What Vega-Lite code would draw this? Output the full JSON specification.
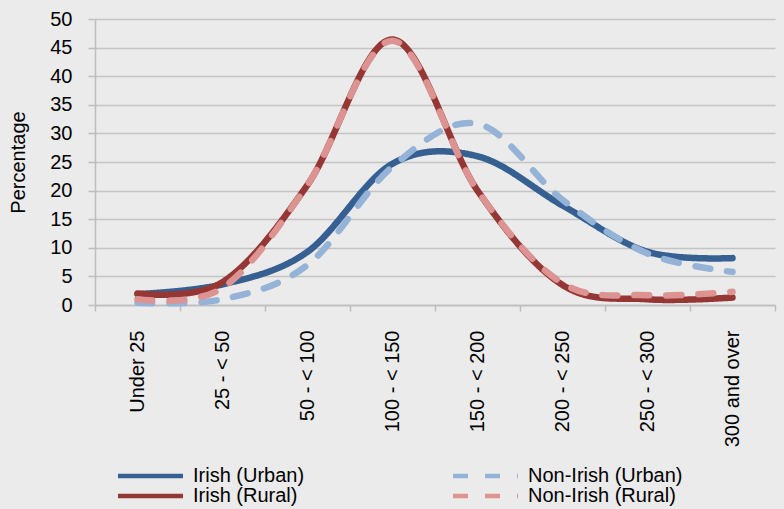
{
  "$schema": "https://vega.github.io/schema/vega-lite/v6.json",
  "autosize": {"type": "none"},
  "padding": {"left": 95, "top": 19, "right": 9, "bottom": 204},
  "width": 680,
  "height": 286,
  "background": "#ebebeb",
  "config": {
    "font": "Liberation Sans",
    "view": {"stroke": null},
    "axis": {"domainColor": "#bdbdbd", "domainWidth": 1.5, "tickColor": "#bdbdbd", "tickWidth": 1.5, "gridColor": "#c4c4c4", "gridWidth": 1.5, "labelFont": "Liberation Sans", "labelFontSize": 20, "labelColor": "#000000", "titleFont": "Liberation Sans", "titleFontSize": 20, "titleFontWeight": "normal", "titleColor": "#000000"}
  },
  "data": {
    "values": [
      {"band": "Under 25", "series": "Irish (Urban)", "pct": 1.9},
      {"band": "25 - < 50", "series": "Irish (Urban)", "pct": 3.6},
      {"band": "50 - < 100", "series": "Irish (Urban)", "pct": 9.3},
      {"band": "100 - < 150", "series": "Irish (Urban)", "pct": 24.7},
      {"band": "150 - < 200", "series": "Irish (Urban)", "pct": 26.0},
      {"band": "200 - < 250", "series": "Irish (Urban)", "pct": 17.4},
      {"band": "250 - < 300", "series": "Irish (Urban)", "pct": 9.3},
      {"band": "300 and over", "series": "Irish (Urban)", "pct": 8.2},
      {"band": "Under 25", "series": "Non-Irish (Urban)", "pct": 0.4},
      {"band": "25 - < 50", "series": "Non-Irish (Urban)", "pct": 1.0},
      {"band": "50 - < 100", "series": "Non-Irish (Urban)", "pct": 7.0},
      {"band": "100 - < 150", "series": "Non-Irish (Urban)", "pct": 24.2},
      {"band": "150 - < 200", "series": "Non-Irish (Urban)", "pct": 31.7},
      {"band": "200 - < 250", "series": "Non-Irish (Urban)", "pct": 18.4},
      {"band": "250 - < 300", "series": "Non-Irish (Urban)", "pct": 9.0},
      {"band": "300 and over", "series": "Non-Irish (Urban)", "pct": 5.8},
      {"band": "Under 25", "series": "Irish (Rural)", "pct": 2.0},
      {"band": "25 - < 50", "series": "Irish (Rural)", "pct": 4.0},
      {"band": "50 - < 100", "series": "Irish (Rural)", "pct": 21.0},
      {"band": "100 - < 150", "series": "Irish (Rural)", "pct": 46.4},
      {"band": "150 - < 200", "series": "Irish (Rural)", "pct": 20.0},
      {"band": "200 - < 250", "series": "Irish (Rural)", "pct": 3.5},
      {"band": "250 - < 300", "series": "Irish (Rural)", "pct": 1.0},
      {"band": "300 and over", "series": "Irish (Rural)", "pct": 1.3},
      {"band": "Under 25", "series": "Non-Irish (Rural)", "pct": 1.0},
      {"band": "25 - < 50", "series": "Non-Irish (Rural)", "pct": 3.0},
      {"band": "50 - < 100", "series": "Non-Irish (Rural)", "pct": 21.0},
      {"band": "100 - < 150", "series": "Non-Irish (Rural)", "pct": 46.2},
      {"band": "150 - < 200", "series": "Non-Irish (Rural)", "pct": 20.0},
      {"band": "200 - < 250", "series": "Non-Irish (Rural)", "pct": 3.8},
      {"band": "250 - < 300", "series": "Non-Irish (Rural)", "pct": 1.7},
      {"band": "300 and over", "series": "Non-Irish (Rural)", "pct": 2.3}
    ]
  },
  "mark": {"type": "line", "interpolate": "cardinal", "strokeWidth": 6.5, "strokeCap": "round", "strokeJoin": "round"},
  "encoding": {
    "x": {
      "field": "band", "type": "nominal",
      "sort": ["Under 25", "25 - < 50", "50 - < 100", "100 - < 150", "150 - < 200", "200 - < 250", "250 - < 300", "300 and over"],
      "scale": {"type": "band", "paddingInner": 0, "paddingOuter": 0},
      "axis": {"title": null, "labelAngle": 270, "tickBand": "extent", "tickSize": 6, "labelPadding": 19, "grid": false, "labelAlign": "right", "labelBaseline": "middle"}
    },
    "y": {
      "field": "pct", "type": "quantitative",
      "scale": {"domain": [0, 50], "nice": false},
      "axis": {"title": "Percentage", "values": [0, 5, 10, 15, 20, 25, 30, 35, 40, 45, 50], "tickSize": 7, "labelPadding": 16, "titleX": -77, "titleY": 143, "titleAngle": 270, "titleAlign": "center", "titleBaseline": "middle"}
    },
    "color": {
      "field": "series", "type": "nominal",
      "scale": {"domain": ["Irish (Urban)", "Non-Irish (Urban)", "Irish (Rural)", "Non-Irish (Rural)"], "range": ["#376092", "#95b3d7", "#953735", "#dc9391"]},
      "legend": {
        "title": null, "orient": "none", "legendX": 45.5, "legendY": 447, "columns": 2, "direction": "horizontal",
        "symbolType": "M-6.5,0H6.5", "symbolSize": 100, "symbolStrokeWidth": 4.5, "symbolFillColor": "transparent", "labelFontSize": 20, "labelColor": "#000000", "labelOffset": 32.5, "columnPadding": 139, "rowPadding": 0
      }
    },
    "strokeDash": {
      "field": "series", "type": "nominal",
      "scale": {"domain": ["Irish (Urban)", "Non-Irish (Urban)", "Irish (Rural)", "Non-Irish (Rural)"], "range": [[1, 0], [15, 17], [1, 0], [15, 17]]},
      "legend": null
    }
  }
}
